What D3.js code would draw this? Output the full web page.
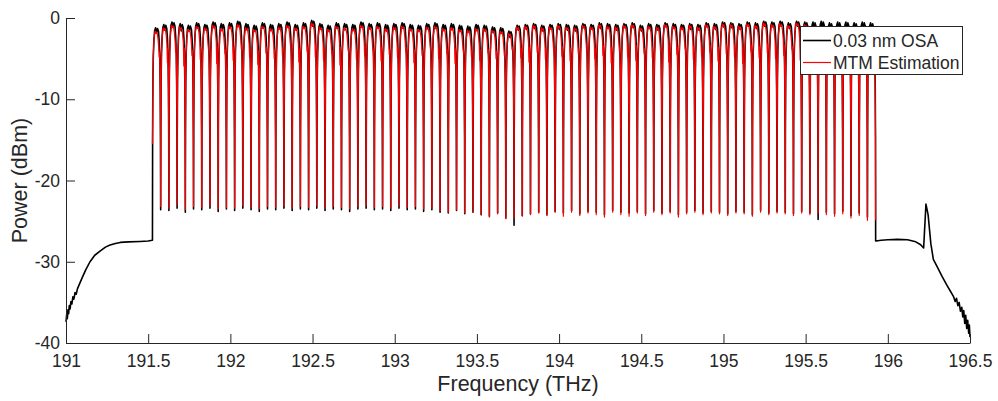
<!DOCTYPE html>
<html><head><meta charset="utf-8">
<script src="https://cdn.jsdelivr.net/npm/d3@7"></script>
<style>body{margin:0;background:#fff}svg{display:block}text{font-family:"Liberation Sans",Arial,Helvetica,sans-serif;fill:#262626}</style>
</head><body><svg id="c" width="998" height="401"></svg>
<script>
// ---------------- data ----------------
const xTicks = [191, 191.5, 192, 192.5, 193, 193.5, 194, 194.5, 195, 195.5, 196, 196.5];
const yTicks = [0, -10, -20, -30, -40];
const seriesNames = ["0.03 nm OSA", "MTM Estimation"];

// 50 GHz channel centres (THz)
const channelCenters = [191.551,191.601,191.651,191.701,191.751,191.801,191.851,191.901,191.951,192.001,
192.051,192.101,192.151,192.201,192.251,192.301,192.351,192.401,192.451,192.501,
192.551,192.601,192.651,192.701,192.751,192.801,192.851,192.901,192.951,193.001,
193.051,193.101,193.151,193.201,193.251,193.301,193.351,193.401,193.451,193.501,
193.551,193.601,193.651,193.701,193.751,193.801,193.851,193.901,193.951,194.001,
194.051,194.101,194.151,194.201,194.251,194.301,194.351,194.401,194.451,194.501,
194.551,194.601,194.651,194.701,194.751,194.801,194.851,194.901,194.951,195.001,
195.051,195.101,195.151,195.201,195.251,195.301,195.351,195.401,195.451,195.501,
195.551,195.601,195.651,195.701,195.751,195.801,195.851,195.901];

// OSA channel top power (dBm)
const osaPeak = [-1.2,-0.8,-0.5,-0.7,-0.9,-0.6,-0.8,-0.5,-0.7,-0.6,
-0.4,-0.7,-0.9,-0.6,-0.8,-0.7,-0.5,-0.8,-0.6,-0.3,
-0.7,-0.9,-0.6,-0.7,-0.8,-0.5,-0.7,-0.6,-0.8,-0.7,
-0.6,-0.8,-0.9,-0.7,-0.6,-0.8,-0.7,-0.9,-1.0,-0.8,
-0.9,-1.1,-1.2,-1.6,-0.9,-0.8,-0.7,-0.9,-0.8,-0.7,
-0.8,-0.9,-0.7,-0.8,-0.6,-0.7,-0.8,-0.7,-0.6,-0.9,
-0.7,-0.8,-0.6,-0.7,-0.8,-0.7,-0.8,-0.6,-0.7,-0.5,
-0.6,-0.7,-0.5,-0.6,-0.4,-0.5,-0.4,-0.6,-0.4,-0.5,
-0.5,-0.4,-0.6,-0.5,-0.5,-0.6,-0.5,-0.6];
// OSA small in-band ripple minimum (dBm)
const osaDip = [-1.8,-1.5,-1.1,-1.6,-1.5,-1.2,-1.4,-1.2,-1.4,-1.1,
-1.0,-1.4,-1.6,-1.2,-1.5,-1.3,-1.1,-1.5,-1.2,-1.0,
-1.4,-1.5,-1.3,-1.2,-1.5,-1.1,-1.3,-1.2,-1.6,-1.3,
-1.2,-1.5,-1.5,-1.2,-1.3,-1.5,-1.3,-1.6,-1.7,-1.4,
-1.6,-1.8,-1.9,-2.4,-1.5,-1.4,-1.3,-1.6,-1.3,-1.4,
-1.5,-1.6,-1.2,-1.4,-1.3,-1.3,-1.5,-1.2,-1.2,-1.6,
-1.3,-1.5,-1.1,-1.3,-1.4,-1.4,-1.5,-1.1,-1.4,-1.1,
-1.2,-1.4,-1.0,-1.3,-1.0,-1.1,-1.0,-1.3,-1.0,-1.1,
-1.6,-1.5,-1.7,-1.6,-1.5,-1.8,-1.6,-1.7];
// OSA minima between adjacent channels (dBm), 87 values
const osaValley = [-23.6,-23.7,-23.4,-23.9,-23.5,-23.6,-23.4,-23.8,-23.5,-23.7,
-23.4,-23.6,-23.8,-23.5,-23.6,-23.4,-23.7,-23.5,-23.6,-23.4,
-23.7,-23.5,-23.6,-23.8,-23.5,-23.4,-23.6,-23.5,-23.7,-23.4,
-23.6,-23.5,-23.8,-23.6,-23.9,-24.0,-23.7,-24.1,-23.9,-24.2,
-24.4,-24.0,-24.6,-25.5,-24.3,-24.1,-23.9,-24.2,-23.8,-24.0,
-23.7,-24.1,-23.8,-23.9,-24.2,-23.7,-23.9,-24.0,-23.8,-24.1,
-23.7,-24.0,-23.8,-24.2,-23.9,-23.7,-24.0,-23.8,-23.9,-24.1,
-23.8,-23.9,-24.2,-23.7,-24.0,-23.8,-23.9,-24.1,-23.8,-24.0,
-24.8,-23.9,-24.1,-23.8,-24.3,-24.0,-24.5];
// MTM estimate channel top, shoulder notch and minima (dBm)
const mtmPeak = [-1.6,-1.2,-0.9,-1.1,-1.4,-1.0,-1.2,-0.9,-1.3,-1.0,
-0.8,-1.2,-1.4,-1.0,-1.3,-1.1,-0.9,-1.2,-1.0,-0.6,
-1.1,-1.4,-1.0,-1.2,-1.3,-0.9,-1.1,-1.0,-1.3,-1.1,
-1.0,-1.3,-1.4,-1.1,-1.0,-1.3,-1.2,-1.4,-1.5,-1.3,
-1.3,-1.5,-1.6,-1.9,-1.1,-1.0,-0.9,-1.2,-1.1,-0.9,
-1.1,-1.2,-0.9,-1.1,-0.8,-1.0,-1.1,-0.9,-0.8,-1.2,
-1.0,-1.1,-0.8,-1.0,-1.1,-0.9,-1.1,-0.8,-1.0,-0.7,
-0.8,-1.0,-0.7,-0.9,-0.6,-0.8,-0.7,-0.9,-0.6,-0.8,
-1.3,-1.2,-1.4,-1.3,-1.2,-1.4,-1.3,-1.4];
const mtmDip = [-4.8,-5.5,-4.2,-5.9,-4.6,-5.1,-3.9,-5.6,-4.4,-5.2,
-3.8,-4.9,-5.7,-4.3,-5.0,-4.6,-3.7,-5.4,-4.1,-4.8,
-5.2,-4.4,-5.8,-4.0,-5.1,-4.7,-3.9,-5.3,-4.5,-4.9,
-4.2,-5.5,-4.6,-3.8,-5.0,-4.4,-5.6,-4.1,-4.8,-5.2,
-4.3,-5.0,-4.6,-3.6,-4.9,-5.4,-4.2,-5.1,-4.0,-4.7,
-5.3,-4.4,-3.9,-5.0,-4.6,-5.5,-4.1,-4.8,-5.2,-4.3,
-4.9,-4.0,-5.4,-4.5,-3.8,-5.1,-4.7,-4.2,-5.3,-4.4,
-4.8,-5.6,-4.1,-4.9,-4.3,-5.0,-4.6,-3.9,-5.2,-4.4,
-4.0,-4.6,-3.8,-4.3,-4.1,-4.5,-3.9,-4.2];
const mtmValley = [-23.2,-23.4,-23.0,-23.6,-23.2,-23.3,-23.1,-23.5,-23.3,-23.4,
-23.1,-23.3,-23.5,-23.2,-23.3,-23.1,-23.4,-23.2,-23.3,-23.1,
-23.4,-23.2,-23.3,-23.5,-23.2,-23.1,-23.3,-23.2,-23.4,-23.1,
-23.3,-23.2,-23.5,-23.4,-23.7,-23.9,-23.6,-24.0,-23.8,-24.2,
-24.5,-24.1,-24.7,-24.6,-24.4,-24.2,-24.0,-24.3,-23.9,-24.4,
-23.9,-24.3,-24.0,-24.2,-24.5,-23.9,-24.2,-24.4,-24.0,-24.3,
-23.9,-24.2,-24.0,-24.5,-24.1,-23.9,-24.2,-24.0,-24.1,-24.3,
-24.0,-24.1,-24.4,-23.9,-24.2,-24.0,-24.1,-24.3,-24.0,-24.2,
-24.0,-24.2,-24.4,-24.1,-24.6,-24.3,-24.9];
// measured channel profile: offset in channel spacings, dB relative to top (null = dip array value)
const osaShapeU  = [-0.48,-0.45,-0.40,-0.33,-0.24,-0.12,0.0,0.12,0.24,0.33,0.40,0.45,0.48];
const osaShapeDb = [-13,-7.0,-3.6,-1.6,-0.4,0,null,-0.1,-0.5,-1.8,-4.0,-8.0,-14];
const mtmShapeU  = [-0.48,-0.45,-0.40,-0.32,-0.20,-0.08,0.04,0.16,0.26,0.32,0.37,0.42,0.46,0.48];
const mtmShapeDb = [-12,-6.5,-3.0,-1.2,0,-0.3,-0.1,-0.8,-2.0,null,-2.6,-5.0,-10,-13];

// out-of-band ASE measured by the OSA (freq THz, dBm)
const aseLeft = [[191.000,-37.4],[191.004,-36.5],[191.008,-37.0],[191.012,-35.9],[191.016,-36.4],[191.020,-35.4],
[191.025,-35.8],[191.030,-34.9],[191.036,-35.2],[191.042,-34.3],[191.048,-34.6],[191.055,-33.8],[191.062,-34.0],
[191.070,-33.3],[191.085,-32.6],[191.100,-31.9],[191.120,-31.0],[191.146,-30.0],[191.175,-29.2],[191.207,-28.7],
[191.240,-28.2],[191.268,-27.95],[191.300,-27.75],[191.330,-27.62],[191.380,-27.55],[191.450,-27.5],[191.500,-27.45],[191.524,-27.35]];
const aseRight = [[195.928,-27.45],[195.960,-27.35],[196.000,-27.3],[196.060,-27.25],[196.120,-27.3],[196.170,-27.55],
[196.200,-27.9],[196.218,-28.3],[196.232,-22.9],[196.245,-24.2],[196.262,-27.8],[196.277,-29.7],[196.300,-30.6],
[196.330,-31.8],[196.360,-32.9],[196.380,-33.6],[196.400,-34.3],[196.410,-34.9],[196.418,-34.5],[196.426,-35.4],
[196.434,-35.0],[196.442,-36.1],[196.450,-35.6],[196.456,-36.8],[196.462,-36.0],[196.468,-37.6],[196.474,-36.6],
[196.480,-38.2],[196.486,-37.2],[196.492,-38.8],[196.496,-37.8],[196.500,-39.3]];
const osaEdge = [-27.35, -27.45]; // level just outside first/last channel
const mtmEdge = [-15.5, -24.9];
const spacing = 0.05;

// ---------------- build lines ----------------
function buildChannels(peaks, valleys, dips, shapeU, shapeDb, edges) {
  const pts = [];
  const n = channelCenters.length;
  pts.push([channelCenters[0] - spacing/2, edges[0]]);
  for (let k = 0; k < n; k++) {
    const c = channelCenters[k];
    shapeU.forEach((u, i) => {
      const v = shapeDb[i] === null ? dips[k] : peaks[k] + shapeDb[i];
      pts.push([c + u * spacing, v]);
    });
    if (k < n - 1) pts.push([c + spacing/2, valleys[k]]);
  }
  pts.push([channelCenters[n-1] + spacing/2, edges[1]]);
  return pts;
}
const osaLine = aseLeft.concat(buildChannels(osaPeak, osaValley, osaDip, osaShapeU, osaShapeDb, osaEdge), aseRight);
const mtmLine = buildChannels(mtmPeak, mtmValley, mtmDip, mtmShapeU, mtmShapeDb, mtmEdge);

// ---------------- draw ----------------
const svg = d3.select("#c");
const L = 66, R = 970, T = 18, B = 343;
const x = d3.scaleLinear().domain([191, 196.5]).range([L, R]);
const y = d3.scaleLinear().domain([-40, 0]).range([B, T]);
const line = d3.line().x(d => x(d[0])).y(d => y(d[1]));

svg.append("path").datum(osaLine).attr("d", line).attr("fill", "none")
  .attr("stroke", "#000").attr("stroke-width", 1.6).attr("stroke-linejoin", "round");
svg.append("path").datum(mtmLine).attr("d", line).attr("fill", "none")
  .attr("stroke", "#ff0000").attr("stroke-width", 1.2).attr("stroke-linejoin", "round");

const ax = svg.append("g").attr("transform", `translate(0,${B})`)
  .call(d3.axisBottom(x).tickValues(xTicks).tickFormat(d3.format("")).tickSizeInner(-9).tickSizeOuter(0).tickPadding(12));
const ay = svg.append("g").attr("transform", `translate(${L},0)`)
  .call(d3.axisLeft(y).tickValues(yTicks).tickFormat(d => d === 0 ? "0" : "-" + Math.abs(d)).tickSizeInner(-9).tickSizeOuter(0).tickPadding(6));
[ax, ay].forEach(g => {
  g.select(".domain").attr("stroke", "#262626").attr("stroke-width", 1);
  g.selectAll(".tick line").attr("stroke", "#262626").attr("stroke-width", 1);
  g.selectAll(".tick text").attr("fill", "#262626").style("font-size", "17.5px");
});

svg.append("text").attr("x", (L + R) / 2).attr("y", 391).attr("text-anchor", "middle")
  .style("font-size", "21.5px").text("Frequency (THz)");
svg.append("text").attr("transform", `translate(27,${(T + B) / 2}) rotate(-90)`).attr("text-anchor", "middle")
  .style("font-size", "21.5px").text("Power (dBm)");

// legend
const lg = svg.append("g");
lg.append("rect").attr("x", 800.5).attr("y", 26.5).attr("width", 162).attr("height", 48)
  .attr("fill", "#fff").attr("stroke", "#262626").attr("stroke-width", 1);
const colors = ["#000", "#ff0000"];
seriesNames.forEach((s, i) => {
  const yy = 40.5 + i * 22;
  lg.append("line").attr("x1", 803).attr("x2", 831).attr("y1", yy).attr("y2", yy)
    .attr("stroke", colors[i]).attr("stroke-width", i ? 1.2 : 1.6);
  lg.append("text").attr("x", 833).attr("y", yy).attr("dy", "0.35em").style("font-size", "17.5px").text(s);
});
</script></body></html>
